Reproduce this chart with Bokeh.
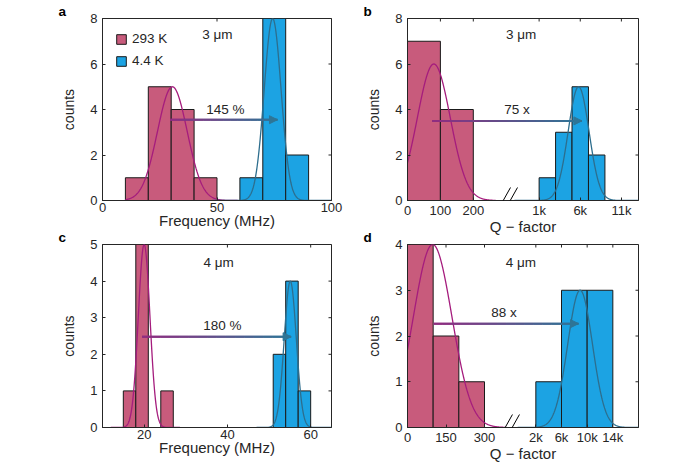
import numpy as np
from bokeh.plotting import figure
from bokeh.layouts import column, row
from bokeh.models import (Range1d, FixedTicker, Label, Legend, LegendItem, Arrow,
                          NormalHead, Title)
from bokeh.embed import file_html
from bokeh.resources import INLINE

# ---------------- data ----------------
# panel a : resonance frequency, 3 um
a_rt_edges = [10, 20, 30, 40, 50]
a_rt_counts = [1, 5, 4, 1]
a_lt_edges = [60, 70, 80, 90]
a_lt_counts = [1, 8, 2]
a_rt_fit = [5.0, 30.5, 6.5]      # amplitude, mean, sigma
a_lt_fit = [8.0, 74.3, 3.7]
a_rt_fit_span = [10, 59]
a_lt_fit_span = [48, 100]
a_xticks = [0, 50, 100]
a_yticks = [0, 2, 4, 6, 8]

# panel b : Q factor, 3 um (broken axis)
b_rt_edges = [0, 100, 200]
b_rt_counts = [7, 4]
b_lt_edges = [1000, 3000, 5000, 7000, 9000]
b_lt_counts = [1, 3, 5, 2]
b_rt_fit = [6.0, 80.0, 50.0]
b_lt_fit = [5.0, 5800.0, 1270.0]
b_rt_fit_span = [0, 268]
b_lt_fit_span = [-2000, 13080]
b_xticks_left = [0, 100, 200]
b_xticks_right = [1000, 6000, 11000]
b_xlabels_left = ["0", "100", "200"]
b_xlabels_right = ["1k", "6k", "11k"]
b_yticks = [0, 2, 4, 6, 8]

# panel c : resonance frequency, 4 um
c_rt_edges = [15, 18, 21, 24, 27]
c_rt_counts = [1, 5, 0, 1]
c_lt_edges = [51, 54, 57, 60]
c_lt_counts = [2, 4, 1]
c_rt_fit = [5.0, 20.0, 1.4]
c_lt_fit = [4.0, 55.1, 1.45]
c_rt_fit_span = [12, 28.6]
c_lt_fit_span = [47, 65]
c_xticks = [20, 40, 60]
c_yticks = [0, 1, 2, 3, 4, 5]

# panel d : Q factor, 4 um (broken axis)
d_rt_edges = [0, 100, 200, 300]
d_rt_counts = [4, 2, 1]
d_lt_edges = [2000, 6000, 10000, 14000]
d_lt_counts = [1, 3, 3]
d_rt_fit = [4.0, 98.0, 75.0]
d_lt_fit = [3.0, 8900.0, 1930.0]
d_rt_fit_span = [0, 383]
d_lt_fit_span = [-840, 18000]
d_xticks_left = [0, 150, 300]
d_xticks_right = [2000, 6000, 10000, 14000]
d_xlabels_left = ["0", "150", "300"]
d_xlabels_right = ["2k", "6k", "10k", "14k"]
d_yticks = [0, 1, 2, 3, 4]

series_names = ["293 K", "4.4 K"]
shift_labels = ["145 %", "75 x", "180 %", "88 x"]
size_labels = ["3 μm", "3 μm", "4 μm", "4 μm"]
panel_letters = ["a", "b", "c", "d"]

# ---------------- style ----------------
FONT = "Liberation Sans"
RED_FILL = "#C85B7C"
BLUE_FILL = "#1CA3E3"
RED_LINE = "#A51C7D"
BLUE_LINE = "#2D6E8E"
ARROW_START = "#94297F"
ARROW_END = "#2E7596"
TXT = "#262626"
AX = "#262626"
TICK_FS = "13px"
XLABEL_FS = "15px"
YLABEL_FS = "14px"
ANN_FS = "13.5px"


def map_right_b(q):
    return 400 + (np.asarray(q, dtype=float) - 1000) * 0.025


def map_right_d(q):
    return 500 + (np.asarray(q, dtype=float) - 2000) * 0.025


def gauss(span, fit, n=300):
    amp, mu, sig = fit
    x = np.linspace(span[0], span[1], n)
    return x, amp * np.exp(-(x - mu) ** 2 / (2 * sig ** 2))


def hex2rgb(h):
    h = h.lstrip("#")
    return [int(h[i:i + 2], 16) for i in (0, 2, 4)]


def blend(c0, c1, t):
    a, b = hex2rgb(c0), hex2rgb(c1)
    return "#%02x%02x%02x" % tuple(int(round(a[i] + (b[i] - a[i]) * t)) for i in range(3))


def make_fig(xr, yr, xticks, yticks, borders, frame, xlabel, letter, overrides=None):
    L, R, T, B = borders
    FW, FH = frame
    p = figure(frame_width=FW, frame_height=FH, x_range=Range1d(*xr), y_range=Range1d(*yr),
               output_backend="svg", toolbar_location=None,
               min_border_left=L, min_border_right=R,
               min_border_top=T, min_border_bottom=B)
    p.border_fill_alpha = 0
    p.title = Title(text=letter, align="left", offset=-44, standoff=0,
                    text_font=FONT, text_font_size="13.5px", text_font_style="bold",
                    text_color="black", text_line_height=1.0)
    p.grid.visible = False
    p.outline_line_color = AX
    p.outline_line_width = 1
    for ax in (p.xaxis[0], p.yaxis[0]):
        ax.major_tick_in = 3
        ax.major_tick_out = 0
        ax.minor_tick_line_color = None
        ax.axis_line_color = AX
        ax.major_tick_line_color = AX
        ax.major_label_text_font = FONT
        ax.major_label_text_font_size = TICK_FS
        ax.major_label_text_color = TXT
        ax.axis_label_text_font = FONT
        ax.axis_label_text_font_style = "normal"
        ax.axis_label_text_color = TXT
    p.xaxis.axis_label_text_font_size = XLABEL_FS
    p.yaxis.axis_label_text_font_size = YLABEL_FS
    p.xaxis.ticker = FixedTicker(ticks=xticks)
    p.yaxis.ticker = FixedTicker(ticks=yticks)
    if overrides:
        p.xaxis.major_label_overrides = overrides
    p.xaxis.axis_label = xlabel
    p.yaxis.axis_label = "counts"
    p.xaxis.major_label_standoff = 2
    p.xaxis.axis_label_standoff = -3
    p.yaxis.major_label_standoff = 5
    p.yaxis.axis_label_standoff = 10
    # mirrored inward ticks on the right and top edges (clipped to the frame)
    p.scatter(x=[xr[1]] * len(yticks), y=yticks, marker="dash", size=6,
              line_color=AX, line_width=1)
    p.scatter(x=xticks, y=[yr[1]] * len(xticks), marker="dash", size=6, angle=np.pi / 2,
              line_color=AX, line_width=1)
    return p


def bars(p, edges, counts, color, xmap=None):
    e = np.asarray(edges, dtype=float)
    if xmap is not None:
        e = xmap(e)
    return p.quad(left=e[:-1], right=e[1:], bottom=0, top=counts,
                  fill_color=color, line_color="#1a1a1a", line_width=1)


def curve(p, span, fit, color, xmap=None):
    x, y = gauss(span, fit)
    if xmap is not None:
        x = xmap(x)
    p.line(x, y, line_color=color, line_width=1.3)


def grad_arrow(p, x0, x1, y, n=16):
    # shaft up to the arrow head; every point covered by exactly two pieces
    xs = np.linspace(x0, x1, n + 1)
    starts = [xs[0]] + list(xs[:-2]) + [xs[-2]]
    ends = [xs[1]] + list(xs[2:]) + [xs[-1]]
    mids = [(s + e) / 2 for s, e in zip(starts, ends)]
    cols = [blend(ARROW_START, ARROW_END, (m - x0) / (x1 - x0)) for m in mids]
    p.segment(x0=starts, x1=ends, y0=[y] * len(starts), y1=[y] * len(starts),
              line_color=cols, line_width=2)
    p.add_layout(Arrow(end=NormalHead(size=8, fill_color=ARROW_END, line_color=ARROW_END),
                       x_start=xs[-2], x_end=x1, y_start=y, y_end=y,
                       line_color=ARROW_END, line_width=0.1))


def text(p, x, y, s, size=ANN_FS):
    p.add_layout(Label(x=x, y=y, text=s, text_font=FONT, text_font_size=size,
                       text_color=TXT, text_align="center", text_baseline="middle"))


def break_marks(p, xc, xr, yr, fw, fh):
    px_x = (xr[1] - xr[0]) / fw
    px_y = (yr[1] - yr[0]) / fh
    for off in (-3.5, 3.5):
        cx = xc + off * px_x
        p.add_layout(Arrow(end=None, x_start=cx - 5 * px_x, y_start=yr[0] - 4 * px_y,
                           x_end=cx + 4.5 * px_x, y_end=yr[0] + 13 * px_y,
                           line_color="black", line_width=1))


# ---------------- panel a ----------------
xa, ya = (0, 100), (0, 8)
pa = make_fig(xa, ya, a_xticks, a_yticks, (102, 15, 18, 30), (229, 182),
              "Frequency (MHz)", panel_letters[0])
ra = bars(pa, a_rt_edges, a_rt_counts, RED_FILL)
ba = bars(pa, a_lt_edges, a_lt_counts, BLUE_FILL)
curve(pa, a_rt_fit_span, a_rt_fit, RED_LINE)
curve(pa, a_lt_fit_span, a_lt_fit, BLUE_LINE)
grad_arrow(pa, 29.5, 76.4, 3.55)
text(pa, 53.7, 3.98, shift_labels[0])
text(pa, 50.2, 7.3, size_labels[0])
leg = Legend(items=[LegendItem(label=series_names[0], renderers=[ra]),
                    LegendItem(label=series_names[1], renderers=[ba])],
             location="top_left", border_line_color=None, background_fill_alpha=0,
             label_text_font=FONT, label_text_font_size="13.5px", label_text_color=TXT,
             glyph_width=12, glyph_height=12, spacing=7, padding=0, margin=13,
             label_standoff=5)
pa.add_layout(leg)

# ---------------- panel b ----------------
xb, yb = (0, 702), (0, 8)
b_ticks = [int(round(v)) for v in b_xticks_left] + [int(round(float(map_right_b(v)))) for v in b_xticks_right]
b_over = {t: s for t, s in zip(b_ticks, b_xlabels_left + b_xlabels_right)}
pb = make_fig(xb, yb, b_ticks, b_yticks, (61, 46, 18, 30), (231, 182),
              "Q − factor", panel_letters[1], b_over)
bars(pb, b_rt_edges, b_rt_counts, RED_FILL)
bars(pb, b_lt_edges, b_lt_counts, BLUE_FILL, map_right_b)
curve(pb, b_rt_fit_span, b_rt_fit, RED_LINE)
curve(pb, b_lt_fit_span, b_lt_fit, BLUE_LINE, map_right_b)
grad_arrow(pb, 75, float(map_right_b(6200)), 3.5)
text(pb, 333, 3.98, shift_labels[1])
text(pb, 345, 7.3, size_labels[1])
break_marks(pb, 310, xb, yb, 231, 182)

# ---------------- panel c ----------------
xc, yc = (10, 65), (0, 5)
pc = make_fig(xc, yc, c_xticks, c_yticks, (102, 15, 17, 32), (229, 183),
              "Frequency (MHz)", panel_letters[2])
bars(pc, c_rt_edges, c_rt_counts, RED_FILL)
bars(pc, c_lt_edges, c_lt_counts, BLUE_FILL)
curve(pc, c_rt_fit_span, c_rt_fit, RED_LINE)
curve(pc, c_lt_fit_span, c_lt_fit, BLUE_LINE)
grad_arrow(pc, 19.5, 55.3, 2.48)
text(pc, 38.8, 2.78, shift_labels[2])
text(pc, 37.9, 4.5, size_labels[2])

# ---------------- panel d ----------------
xd, yd = (0, 900), (0, 4)
d_ticks = [int(round(v)) for v in d_xticks_left] + [int(round(float(map_right_d(v)))) for v in d_xticks_right]
d_over = {t: s for t, s in zip(d_ticks, d_xlabels_left + d_xlabels_right)}
pd_ = make_fig(xd, yd, d_ticks, d_yticks, (61, 46, 17, 32), (231, 183),
               "Q − factor", panel_letters[3], d_over)
bars(pd_, d_rt_edges, d_rt_counts, RED_FILL)
bars(pd_, d_lt_edges, d_lt_counts, BLUE_FILL, map_right_d)
curve(pd_, d_rt_fit_span, d_rt_fit, RED_LINE)
curve(pd_, d_lt_fit_span, d_lt_fit, BLUE_LINE, map_right_d)
grad_arrow(pd_, 102, float(map_right_d(8650)), 2.27)
text(pd_, 376, 2.52, shift_labels[3])
text(pd_, 442, 3.6, size_labels[3])
break_marks(pd_, 405, xd, yd, 231, 183)

# pull the lower row up so that its frames sit where the reference has them
pc.margin = (-10, 0, 0, 0)
pd_.margin = (-10, 0, 0, 0)

layout = column(row(pa, pb), row(pc, pd_))
open("out.html", "w").write(file_html(layout, INLINE))
